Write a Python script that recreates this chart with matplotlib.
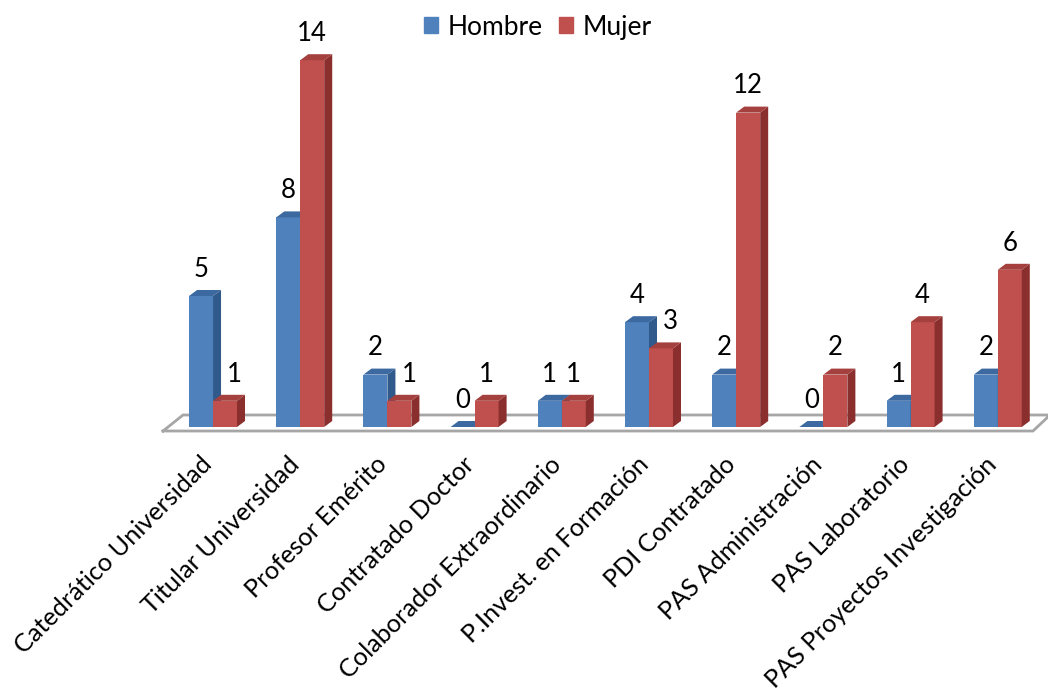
import matplotlib.pyplot as plt
from matplotlib.patches import Patch

# datos
categorias = ["Catedrático Universidad", "Titular Universidad", "Profesor Emérito",
              "Contratado Doctor", "Colaborador Extraordinario", "P.Invest. en Formación",
              "PDI Contratado", "PAS Administración", "PAS Laboratorio",
              "PAS Proyectos Investigación"]
hombre = [5, 8, 2, 0, 1, 4, 2, 0, 1, 2]
mujer = [1, 14, 1, 1, 1, 3, 12, 2, 4, 6]

FONT = ["Lato", "DejaVu Sans"]
plt.rcParams['font.family'] = FONT

# colores (frente, lado, techo)
AZUL = ("#4F81BD", "#30598C", "#3C69A0")
ROJO = ("#C0504D", "#8A2F2D", "#A4403D")

W = 0.275      # ancho de cada barra
DX = 0.092     # profundidad en x
DY = 0.229     # profundidad en y


def caja(ax, left, h, colores):
    frente, lado, techo = colores
    ax.bar(left, h, width=W, align='edge', color=frente, linewidth=0, zorder=3)
    r = left + W
    ax.fill([r, r + DX, r + DX, r], [0, DY, h + DY, h], color=lado, lw=0, zorder=3)
    ax.fill([left, left + DX, r + DX, r], [h, h + DY, h + DY, h], color=techo, lw=0, zorder=3)


fig = plt.figure(figsize=(10.48, 6.93), dpi=100)
ax = fig.add_axes([0, 0, 1, 1])
ax.set_xlim(-2.443, 9.576)
ax.set_ylim(-10.153, 16.298)
ax.axis('off')

# suelo
n = len(categorias)
fx = [-0.573, -0.344, n - 0.401, n - 0.596, -0.573]
fy = [-0.153, 0.458, 0.458, -0.153, -0.153]
ax.plot(fx, fy, color="#A6A6A6", lw=2, zorder=2, solid_joinstyle='miter')

for i, (h, m) in enumerate(zip(hombre, mujer)):
    caja(ax, i - W, h, AZUL)
    caja(ax, i, m, ROJO)
    ax.text(i - W / 2, h + 1.02, str(h), ha='center', va='center', fontsize=18.5, zorder=5)
    desp = 0.11 if m < h else 0
    ax.text(i + W / 2 + desp, m + 1.02, str(m), ha='center', va='center', fontsize=18.5, zorder=5)
    ax.text(i + 0.01, -1.49, categorias[i], rotation=45, rotation_mode='anchor',
            ha='right', va='baseline', fontsize=18.2)

handles = [Patch(color=AZUL[0], label="Hombre"), Patch(color=ROJO[0], label="Mujer")]
fig.legend(handles=handles, loc='center', bbox_to_anchor=(0.513, 0.961), ncol=2,
           frameon=False, fontsize=19, handlelength=0.55, handleheight=0.55,
           handletextpad=0.35, columnspacing=0.6)

plt.savefig("out.png", dpi=100)
plt.close()
